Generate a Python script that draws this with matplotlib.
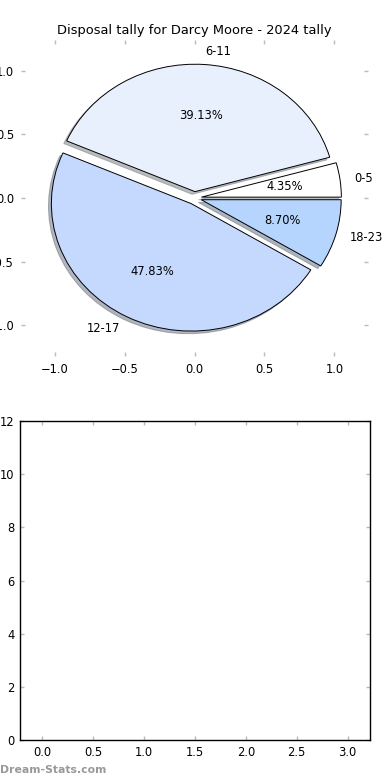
import matplotlib
matplotlib.use('Agg')
import matplotlib.pyplot as plt

# disposal bands and game counts (2024)
bands = ['0-5', '6-11', '12-17', '18-23']
games = [1, 9, 11, 2]
colours = ['#ffffff', '#e8f0fe', '#c5d8fe', '#b5d5fe']
explode = [0.05, 0.05, 0.05, 0.05]

# empty lower panel ranges
bar_ticks = [0.0, 0.5, 1.0, 1.5, 2.0, 2.5, 3.0]
count_ticks = [0, 2, 4, 6, 8, 10, 12]

plt.rcParams['font.family'] = 'DejaVu Sans'
fig = plt.figure(figsize=(3.9, 7.8), dpi=100)

ax = fig.add_axes([21 / 390, 1 - 356 / 780, 347 / 390, 316 / 780])
ax.pie(games, labels=bands, colors=colours, explode=explode, autopct='%1.2f%%',
       shadow={'ox': -0.015, 'oy': -0.015, 'shade': 0.5}, frame=True, startangle=0,
       wedgeprops={'edgecolor': 'black', 'linewidth': 0.7},
       textprops={'fontsize': 8.3})
ax.set_xlim(-1.24, 1.24)
ax.set_ylim(-1.24, 1.24)
ax.set_aspect('auto')
ax.set_xticks([-1.0, -0.5, 0.0, 0.5, 1.0])
ax.set_yticks([-1.0, -0.5, 0.0, 0.5, 1.0])
for s in ax.spines.values():
    s.set_visible(False)
ax.tick_params(direction='in', top=True, right=True, color='#bbbbbb',
               length=3, width=1, labelsize=8.3, pad=5)
ax.set_title('Disposal tally for Darcy Moore - 2024 tally', fontsize=9.4, pad=4)

ax2 = fig.add_axes([20 / 390, 1 - 740 / 780, 350 / 390, 319 / 780])
ax2.set_xlim(-0.22, 3.22)
ax2.set_ylim(0, 12)
ax2.set_xticks(bar_ticks)
ax2.set_yticks(count_ticks)
ax2.tick_params(direction='in', top=True, right=True, color='#bbbbbb',
                length=3, width=1, labelsize=8.3, pad=4)
for s in ax2.spines.values():
    s.set_linewidth(1.0)

fig.text(0.0, 0.006, 'Dream-Stats.com', color='#999999', fontsize=7.8,
         fontweight='bold', ha='left', va='bottom')

fig.savefig('out.png', dpi=100)
